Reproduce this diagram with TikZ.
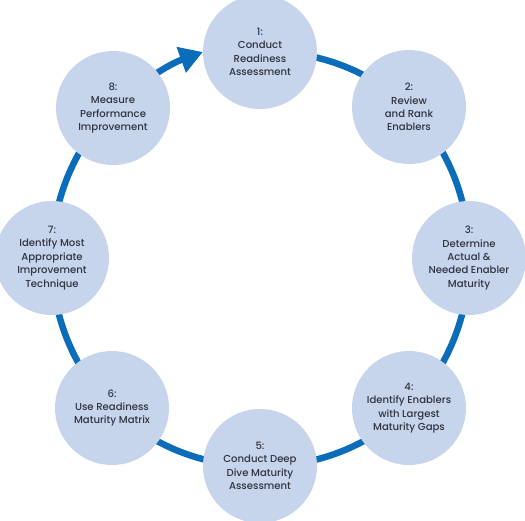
\documentclass[tikz,border=0pt]{standalone}
\usepackage{fontspec}
\setmainfont{Poppins}[UprightFont=* Medium]
\usetikzlibrary{arrows.meta,backgrounds}
\definecolor{cfill}{HTML}{C6D4EC}
\definecolor{cline}{HTML}{0B6DBA}
\definecolor{ctext}{HTML}{30343F}
\tikzset{
  stepcircle/.style={circle, fill=cfill, minimum size=114pt, inner sep=0pt,
    align=center, text=ctext, font=\fontsize{10.1}{13.4}\selectfont},
  ringlink/.style={draw=cline, line width=6.5pt, bend left=22.5, looseness=0.89}
}
\begin{document}
\begin{tikzpicture}[x=1pt,y=-1pt]
\useasboundingbox (0,0) rectangle (525,520);
\clip (0,0) rectangle (525,520);
\node[stepcircle] (c1) at (260,52) {1:\\Conduct\\Readiness\\Assessment};
\node[stepcircle] (c2) at (409,107) {2:\\Review\\and Rank\\Enablers};
\node[stepcircle] (c3) at (469,258) {3:\\Determine\\Actual \&\\Needed Enabler\\Maturity};
\node[stepcircle] (c4) at (409,408) {4:\\Identify Enablers\\with Largest\\Maturity Gaps};
\node[stepcircle] (c5) at (260,466) {5:\\Conduct Deep\\Dive Maturity\\Assessment};
\node[stepcircle] (c6) at (112,408) {6:\\Use Readiness\\Maturity Matrix};
\node[stepcircle] (c7) at (52,258) {7:\\Identify Most\\Appropriate\\Improvement\\Technique};
\node[stepcircle] (c8) at (113,108) {8:\\Measure\\Performance\\Improvement};
\begin{scope}[on background layer]
\draw[ringlink] (c1.center) to (c2.center);
\draw[ringlink] (c2.center) to (c3.center);
\draw[ringlink] (c3.center) to (c4.center);
\draw[ringlink] (c4.center) to (c5.center);
\draw[ringlink] (c5.center) to (c6.center);
\draw[ringlink] (c6.center) to (c7.center);
\draw[ringlink] (c7.center) to (c8.center);
\draw[ringlink, bend left=12, -{Triangle[width=26pt,length=23pt]}] (c8.center) to (c1.west);
\end{scope}
\end{tikzpicture}
\end{document}
